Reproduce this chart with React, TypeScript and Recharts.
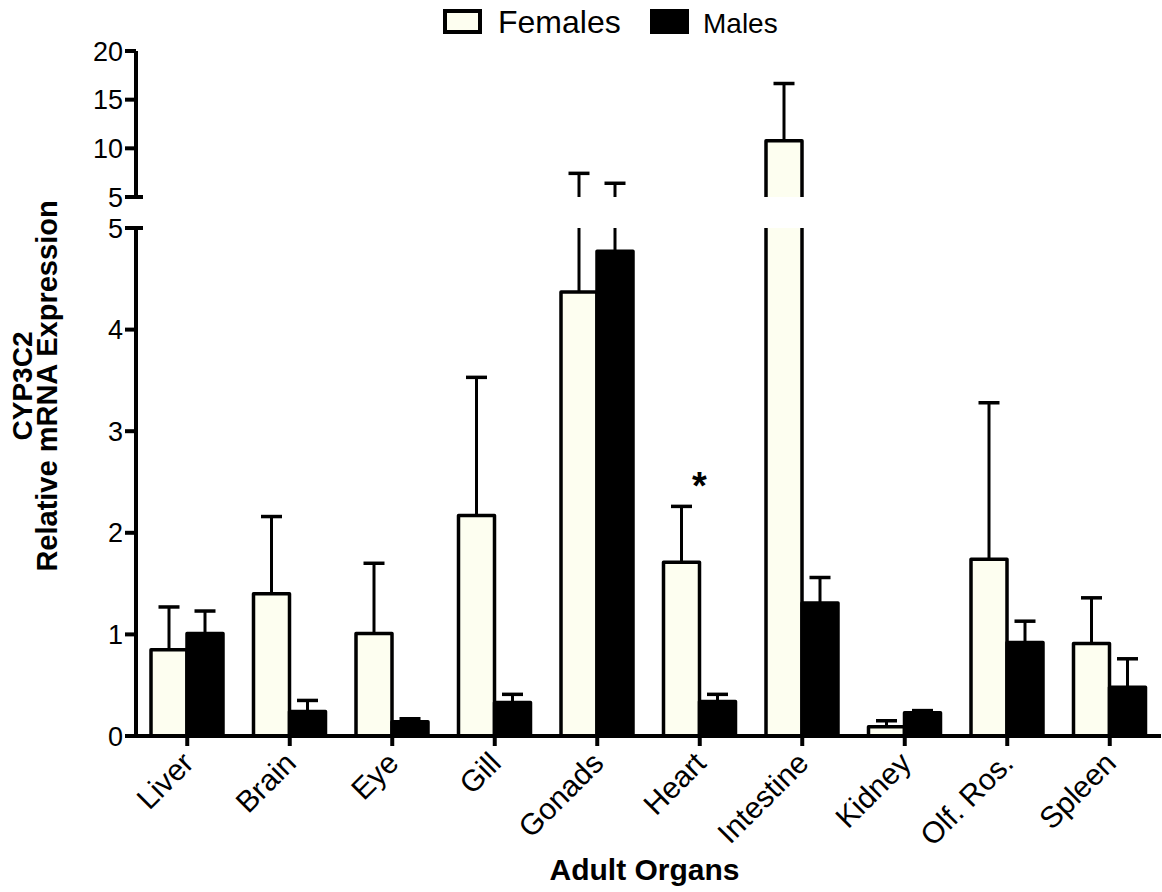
import React from 'react';
import { BarChart, Bar, XAxis, YAxis, Legend, Label } from 'recharts';

// values (mean and SEM per organ)
const organs = ['Liver', 'Brain', 'Eye', 'Gill', 'Gonads', 'Heart', 'Intestine', 'Kidney', 'Olf. Ros.', 'Spleen'];
const femaleMean = [0.85, 1.4, 1.01, 2.17, 4.37, 1.71, 10.78, 0.09, 1.74, 0.91];
const femaleSem = [0.42, 0.76, 0.69, 1.36, 3.06, 0.55, 5.88, 0.06, 1.54, 0.45];
const maleMean = [1.01, 0.24, 0.14, 0.33, 4.77, 0.34, 1.31, 0.23, 0.92, 0.48];
const maleSem = [0.22, 0.11, 0.03, 0.08, 1.64, 0.07, 0.25, 0.02, 0.21, 0.28];
const significance = ['', '', '', '', '', '*', '', '', '', ''];

const lowerTicks = [0, 1, 2, 3, 4, 5];
const upperTicks = [5, 10, 15, 20];

const FEMALE_FILL = '#FDFEF0';
const FONT = "'Liberation Sans', Arial, Helvetica, sans-serif";

const rows = organs.map((organ, i) => ({
  organ,
  female: femaleMean[i],
  femaleErr: femaleSem[i],
  male: maleMean[i],
  maleErr: maleSem[i],
  sig: significance[i],
}));

// bar body: no bottom edge, top edge dropped when the bar runs past the break
const barShape = (key: string, clipAbove: number) => (props: any) => {
  const { x, y, width, height, fill, payload } = props;
  if (!(height > 0.5)) return null;
  const bottom = y + height;
  const open = payload[key] > clipAbove;
  const d = open
    ? `M${x},${bottom} L${x},${y} M${x + width},${y} L${x + width},${bottom}`
    : `M${x},${bottom} L${x},${y} L${x + width},${y} L${x + width},${bottom}`;
  return (
    <g>
      <rect x={x} y={y} width={width} height={height} fill={fill} />
      <path d={d} fill="none" stroke="#000" strokeWidth={3.5} strokeLinejoin="round" />
    </g>
  );
};

// upper error whisker, stacked on top of the bar
const errShape = (key: string, clipAbove: number, withSig: boolean) => (props: any) => {
  const { x, y, width, height, payload } = props;
  if (!(height > 0.5)) return null;
  const cx = x + width / 2;
  const capped = payload[key] + payload[key + 'Err'] <= clipAbove;
  return (
    <g>
      <line x1={cx} x2={cx} y1={y + height} y2={y} stroke="#000" strokeWidth={3} />
      {capped && <line x1={cx - 10.5} x2={cx + 10.5} y1={y} y2={y} stroke="#000" strokeWidth={3.5} />}
      {withSig && payload.sig && (
        <text x={x + width} y={y - 7} textAnchor="middle" fontSize={38} fontWeight="bold" fill="#000">
          {payload.sig}
        </text>
      )}
    </g>
  );
};

const ValueTick = (props: any) => {
  const { x, y, payload } = props;
  return (
    <g>
      <text x={x} y={y} dy="0.355em" textAnchor="end" fontSize={27} fill="#000">
        {payload.value}
      </text>
      {payload.value === 5 && <line x1={x + 12} x2={x + 20} y1={y} y2={y} stroke="#000" strokeWidth={4} />}
    </g>
  );
};

const OrganTick = (props: any) => {
  const { x, y, payload } = props;
  const tx = x + 8;
  const ty = y + 17;
  return (
    <text x={tx} y={ty} transform={`rotate(-45, ${tx}, ${ty})`} textAnchor="end" fontSize={30} fill="#000">
      {payload.value}
    </text>
  );
};

const LegendContent = () => (
  <svg width={345} height={46} style={{ display: 'block' }}>
    <rect x={4} y={12} width={35} height={21} fill={FEMALE_FILL} stroke="#000" strokeWidth={4} />
    <text x={57} y={34} fontSize={32} fill="#000">Females</text>
    <rect x={211} y={12} width={35} height={21} fill="#000" stroke="#000" strokeWidth={4} />
    <text x={262} y={34} fontSize={28} fill="#000">Males</text>
  </svg>
);

const axisStroke = { stroke: '#000', strokeWidth: 4 };

const series = (clipAbove: number, withSig: boolean) => [
  <Bar key="f" dataKey="female" stackId="f" fill={FEMALE_FILL} isAnimationActive={false} shape={barShape('female', clipAbove)} />,
  <Bar key="fe" dataKey="femaleErr" stackId="f" fill="#000" isAnimationActive={false} shape={errShape('female', clipAbove, withSig)} />,
  <Bar key="m" dataKey="male" stackId="m" fill="#000" isAnimationActive={false} shape={barShape('male', clipAbove)} />,
  <Bar key="me" dataKey="maleErr" stackId="m" fill="#000" isAnimationActive={false} shape={errShape('male', clipAbove, false)} />,
];

export default function App() {
  return (
    <div style={{ position: 'absolute', left: 0, top: 0, width: 1162, height: 892, background: '#fff', fontFamily: FONT }}>
      {/* upper segment: 5 - 20 */}
      <div style={{ position: 'absolute', left: 0, top: 0 }}>
        <BarChart width={1162} height={220} data={rows} margin={{ top: 51, right: 1, bottom: 23, left: 0 }} barSize={36} barGap={0}>
          <XAxis dataKey="organ" hide />
          <YAxis
            type="number"
            width={136}
            domain={[5, 20]}
            ticks={upperTicks}
            allowDataOverflow
            interval={0}
            axisLine={axisStroke}
            tickLine={axisStroke}
            tickSize={11}
            tickMargin={2}
            tick={(p: any) => <ValueTick {...p} />}
          />
          <Legend
            layout="horizontal"
            verticalAlign="middle"
            align="center"
            content={() => <LegendContent />}
            wrapperStyle={{ top: -1, left: 441, width: 345 }}
          />
          {series(20, false)}
        </BarChart>
      </div>

      {/* lower segment: 0 - 5 */}
      <div style={{ position: 'absolute', left: 0, top: 0 }}>
        <BarChart width={1162} height={892} data={rows} margin={{ top: 228, right: 1, bottom: 0, left: 0 }} barSize={36} barGap={0}>
          <XAxis
            dataKey="organ"
            height={156}
            interval={0}
            axisLine={axisStroke}
            tickLine={axisStroke}
            tickSize={10}
            tickMargin={2}
            tick={(p: any) => <OrganTick {...p} />}
          >
            <Label value="Adult Organs" position="insideBottom" offset={12} fill="#000" fontSize={30} fontWeight="bold" dx={-4} />
          </XAxis>
          <YAxis
            type="number"
            width={136}
            domain={[0, 5]}
            ticks={lowerTicks}
            allowDataOverflow
            interval={0}
            axisLine={axisStroke}
            tickLine={axisStroke}
            tickSize={11}
            tickMargin={2}
            tick={(p: any) => <ValueTick {...p} />}
          />
          {series(5, true)}
        </BarChart>
      </div>

      {/* y-axis title spanning both segments */}
      <svg width={80} height={892} style={{ position: 'absolute', left: 0, top: 0 }}>
        <text x={32} y={386} transform="rotate(-90, 32, 386)" textAnchor="middle" fontSize={28} fontWeight="bold" fill="#000">
          CYP3C2
        </text>
        <text x={57} y={386} transform="rotate(-90, 57, 386)" textAnchor="middle" fontSize={29} fontWeight="bold" fill="#000">
          Relative mRNA Expression
        </text>
      </svg>
    </div>
  );
}
